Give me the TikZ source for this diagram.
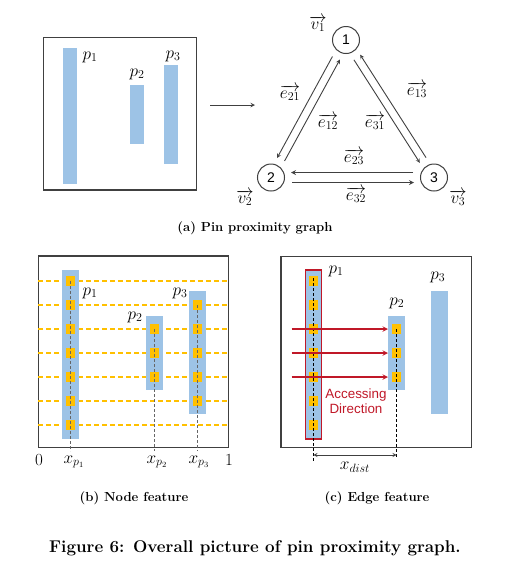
\documentclass[tikz,border=0pt]{standalone}
\usepackage{fontspec}
\newfontfamily\arialfont{Liberation Sans}
\usetikzlibrary{calc}
\definecolor{pinblue}{HTML}{9DC3E6}
\definecolor{pinyellow}{HTML}{FFC000}
\definecolor{accred}{RGB}{192,24,40}
\definecolor{boxgray}{RGB}{64,64,64}

\begin{document}
\begin{tikzpicture}[x=1pt,y=-1pt]
\tikzstyle{frame}=[draw=boxgray,line width=1.2pt]
\tikzstyle{pin}=[fill=pinblue,draw=none,inner sep=0pt,minimum width=14pt]
\tikzstyle{widepin}=[pin,minimum width=17pt]
\tikzstyle{port}=[fill=pinyellow,draw=none,inner sep=0pt,minimum width=9pt,minimum height=10pt]
\tikzstyle{vertex}=[circle,draw=boxgray,line width=1pt,minimum size=27pt,inner sep=0pt,font=\arialfont\fontsize{14}{14}\selectfont]
\tikzstyle{edge}=[-stealth,line width=0.9pt,draw=boxgray,shorten <=21pt,shorten >=20pt]
\tikzstyle{lbl}=[inner sep=0pt,font=\fontsize{17}{20}\selectfont]
\tikzstyle{subcap}=[inner sep=0pt,font=\bfseries\fontsize{13.1}{15}\selectfont]
\tikzstyle{track}=[draw=pinyellow,line width=1.6pt,dash pattern=on 5pt off 3pt]
\tikzstyle{drop}=[draw=boxgray!80,line width=1.4pt,dash pattern=on 3pt off 2pt]
\tikzstyle{cut}=[draw=black,line width=0.9pt,dash pattern=on 3pt off 2pt]
\tikzstyle{access}=[-stealth,draw=accred,line width=1.4pt]

\useasboundingbox (0,0) rectangle (509,566);

% (a) pins and graph
\draw[frame] (43.7,37.7) rectangle (196.3,190);
\node (a1) [pin, minimum height=136pt] at (70,116) {};
\node (a2) [pin, minimum height=59pt] at (137,114.5) {};
\node (a3) [pin, minimum height=99pt] at (171,114.5) {};
\node (la1) [lbl] at (90,57) {$p_1$};
\node (la2) [lbl] at (137,74) {$p_2$};
\node (la3) [lbl] at (173,56) {$p_3$};

\coordinate (arrS) at (210,105);
\coordinate (arrE) at (255,105);
\draw[-stealth,line width=1pt,boxgray] (arrS) -- (arrE);

\node (n1) [vertex] at (346,40) {1};
\node (n2) [vertex] at (271,177.5) {2};
\node (n3) [vertex] at (434,177.5) {3};

\draw[edge] ($(n1)!4pt!-90:(n2)$) -- ($(n2)!4pt!90:(n1)$);
\draw[edge] ($(n2)!4pt!-90:(n1)$) -- ($(n1)!4pt!90:(n2)$);
\draw[edge] ($(n1)!4pt!-90:(n3)$) -- ($(n3)!4pt!90:(n1)$);
\draw[edge] ($(n3)!4pt!-90:(n1)$) -- ($(n1)!4pt!90:(n3)$);
\draw[edge,line width=1.2pt] ($(n3)!5pt!-90:(n2)$) -- ($(n2)!5pt!90:(n3)$);
\draw[edge,line width=1.2pt] ($(n2)!5pt!-90:(n3)$) -- ($(n3)!5pt!90:(n2)$);

\node (le21) [lbl] at (290,93) {$\overrightarrow{e_{21}}$};
\node (le12) [lbl] at (328,122) {$\overrightarrow{e_{12}}$};
\node (le31) [lbl] at (375,122) {$\overrightarrow{e_{31}}$};
\node (le13) [lbl] at (417,90) {$\overrightarrow{e_{13}}$};
\node (le23) [lbl] at (354,157) {$\overrightarrow{e_{23}}$};
\node (le32) [lbl] at (356,195) {$\overrightarrow{e_{32}}$};
\node (lv1) [lbl] at (318,24) {$\overrightarrow{v_1}$};
\node (lv2) [lbl] at (245,198) {$\overrightarrow{v_2}$};
\node (lv3) [lbl] at (458,198) {$\overrightarrow{v_3}$};

\node (capa) [subcap] at (255,228) {(a) Pin proximity graph};

% (b) node feature
\draw[frame] (38.3,256) rectangle (228.7,447.3);
\foreach \k in {0,...,6}
  \draw[track] (38.3,281+24*\k) -- (228.7,281+24*\k);
\node (b1) [widepin, minimum height=169pt] at (70.5,354.5) {};
\node (b2) [widepin, minimum height=74pt] at (154.5,353) {};
\node (b3) [widepin, minimum height=123pt] at (197.5,352.5) {};
\foreach \y [count=\i] in {281,305,329,353,377,401,425}
  \node (pb1\i) [port] at (70.5,\y) {};
\foreach \y [count=\i] in {329,353,377}
  \node (pb2\i) [port] at (154.5,\y) {};
\foreach \y [count=\i] in {305,329,353,377,401}
  \node (pb3\i) [port] at (197.5,\y) {};
\draw[drop] (70.5,281) -- (70.5,451);
\draw[drop] (154.5,329) -- (154.5,451);
\draw[drop] (197.5,305) -- (197.5,451);

\node (lb1) [lbl] at (90,293) {$p_1$};
\node (lb2) [lbl] at (135,317) {$p_2$};
\node (lb3) [lbl] at (180,293) {$p_3$};
\node (zero) [lbl] at (39,460) {0};
\node (one) [lbl] at (229,460) {1};
\node (xb1) [lbl] at (74,462) {$x_{p_1}$};
\node (xb2) [lbl] at (157,462) {$x_{p_2}$};
\node (xb3) [lbl] at (199,462) {$x_{p_3}$};

\node (capb) [subcap] at (134,498) {(b) Node feature};

% (c) edge feature
\draw[frame] (281,256.7) rectangle (471.7,447.3);
\node (c1) [widepin, minimum width=16pt, draw=accred, line width=1.5pt, minimum height=169pt] at (313.3,354.3) {};
\node (c2) [widepin, minimum height=74pt] at (396.7,353) {};
\node (c3) [widepin, minimum height=123pt] at (439.5,352.5) {};
\foreach \y [count=\i] in {281,305,329,353,377,401,425}
  \node (pc1\i) [port] at (313.3,\y) {};
\foreach \y [count=\i] in {329,353,377}
  \node (pc2\i) [port] at (396.7,\y) {};
\draw[cut] (313.3,278) -- (313.3,461);
\draw[cut] (396.7,329) -- (396.7,458);

\foreach \y [count=\i] in {329,353,377}{
  \coordinate (src\i) at (291.7,\y);
  \draw[access] (src\i) -- (c2.west |- src\i);
}
\node (acc) [align=center, text=accred, inner sep=0pt, font=\arialfont\fontsize{13.4}{15.4}\selectfont] at (356,401.5) {Accessing\\Direction};

\coordinate (d1) at (313.3,455);
\coordinate (d2) at (396.7,455);
\draw[stealth-stealth,line width=0.9pt,boxgray] (d1) -- (d2);
\node (ldist) [lbl] at (355,467) {$x_{dist}$};

\node (lc1) [lbl] at (336,271) {$p_1$};
\node (lc2) [lbl] at (396.7,303.3) {$p_2$};
\node (lc3) [lbl] at (437.7,277.3) {$p_3$};

\node (capc) [subcap] at (377,498) {(c) Edge feature};

\node (fig) [inner sep=0pt,font=\bfseries\fontsize{17}{19}\selectfont] at (255,548) {Figure 6: Overall picture of pin proximity graph.};

\end{tikzpicture}
\end{document}
